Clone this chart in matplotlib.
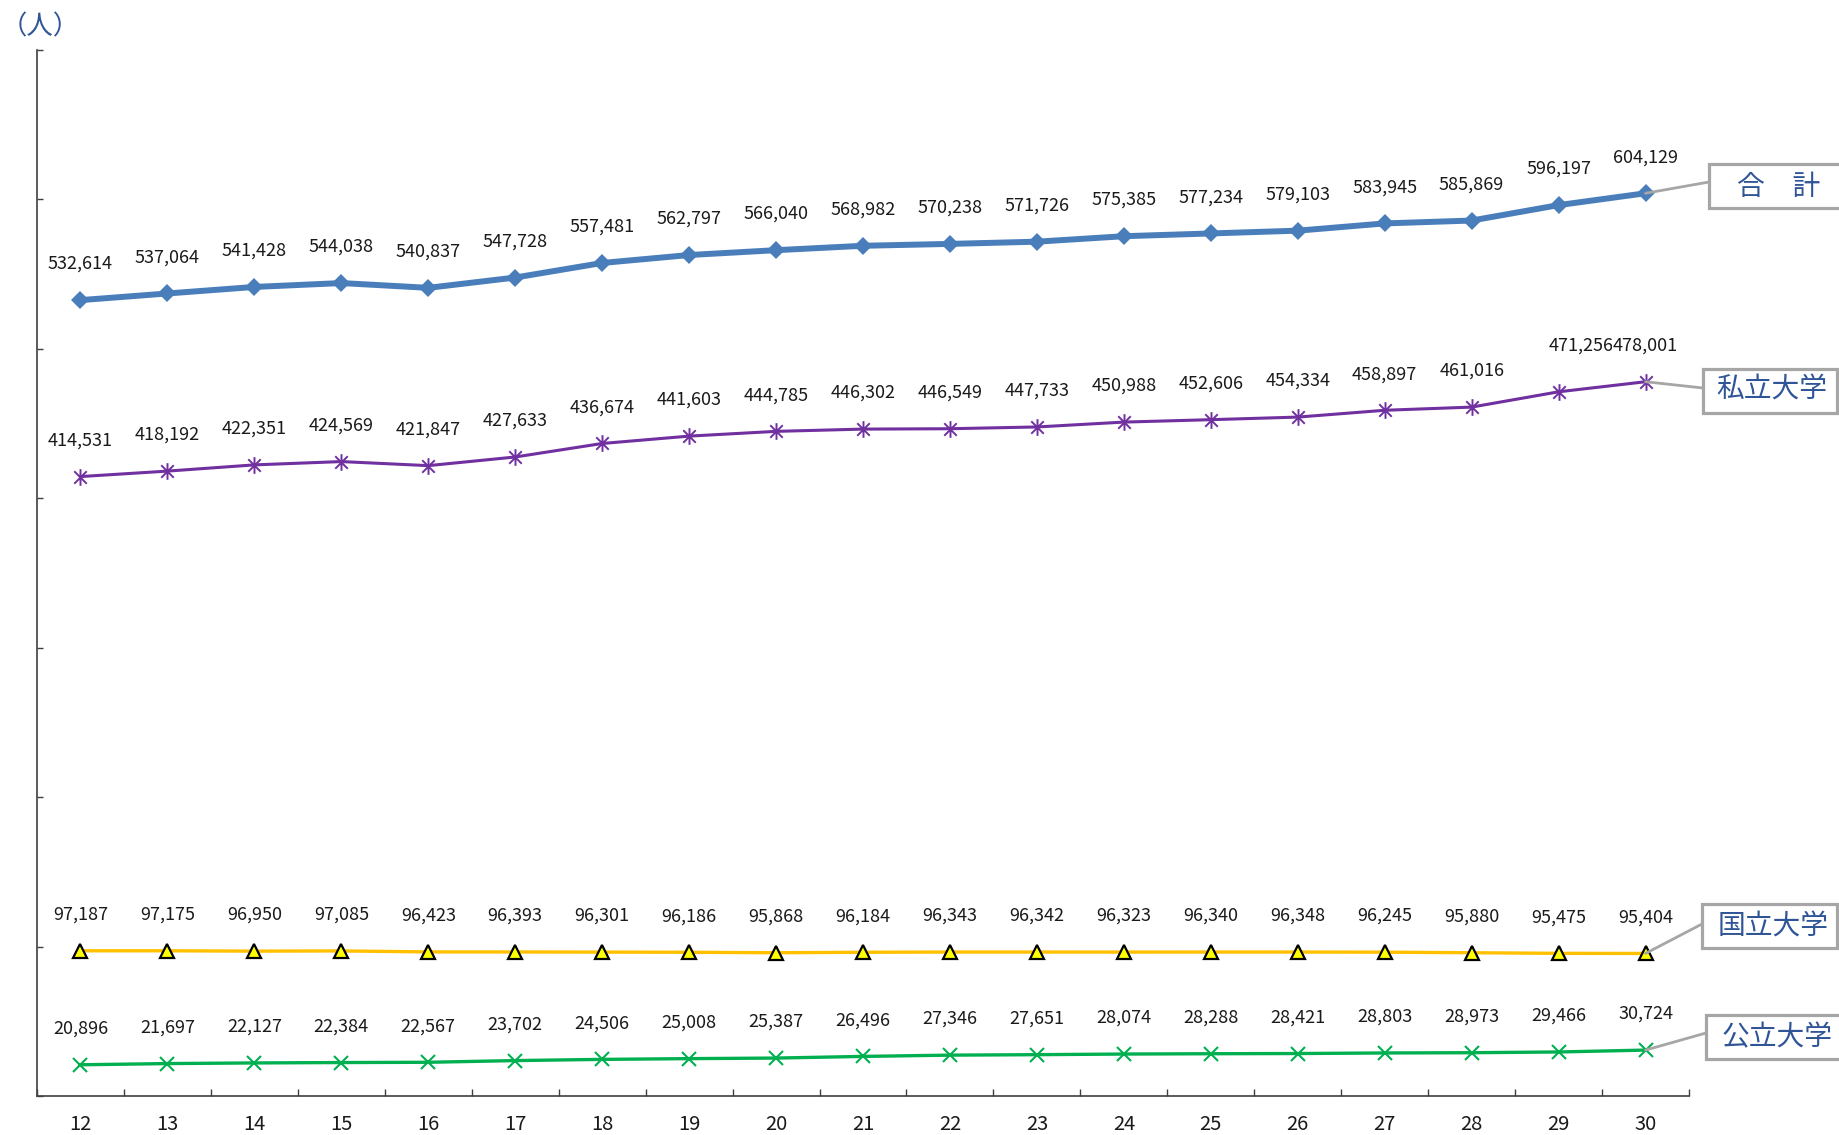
import matplotlib
matplotlib.use("Agg")
import matplotlib.pyplot as plt
from matplotlib.path import Path
from matplotlib.patches import Rectangle, ConnectionPatch

plt.rcParams['font.family'] = ['Noto Sans CJK JP', 'DejaVu Sans']

# 年度 (平成)
years = ["12", "13", "14", "15", "16", "17", "18", "19", "20", "21",
         "22", "23", "24", "25", "26", "27", "28", "29", "30"]

total = [532614, 537064, 541428, 544038, 540837, 547728, 557481, 562797, 566040, 568982,
         570238, 571726, 575385, 577234, 579103, 583945, 585869, 596197, 604129]
private = [414531, 418192, 422351, 424569, 421847, 427633, 436674, 441603, 444785, 446302,
           446549, 447733, 450988, 452606, 454334, 458897, 461016, 471256, 478001]
national = [97187, 97175, 96950, 97085, 96423, 96393, 96301, 96186, 95868, 96184,
            96343, 96342, 96323, 96340, 96348, 96245, 95880, 95475, 95404]
public = [20896, 21697, 22127, 22384, 22567, 23702, 24506, 25008, 25387, 26496,
          27346, 27651, 28074, 28288, 28421, 28803, 28973, 29466, 30724]

series_names = ["合　計", "私立大学", "国立大学", "公立大学"]

W, H = 1840, 1135
fig = plt.figure(figsize=(W / 100, H / 100), dpi=100)
ax = fig.add_axes([37 / W, 1 - 1096 / H, (1689 - 37) / W, (1096 - 50) / H])

x = list(range(len(years)))

# asterisk marker: vertical stroke plus an X
ast = Path([(0, -1), (0, 1), (-0.75, -0.75), (0.75, 0.75), (-0.75, 0.75), (0.75, -0.75)],
           [Path.MOVETO, Path.LINETO, Path.MOVETO, Path.LINETO, Path.MOVETO, Path.LINETO])

ax.plot(x, total, color='#4A7EBB', lw=4.3, marker='D', ms=9.5, mew=0,
        mfc='#4A7EBB', zorder=5, solid_joinstyle='round')
ax.plot(x, private, color='#7030A0', lw=2.2, marker=ast, ms=12, mew=1.4,
        mec='#7030A0', zorder=5)
ax.plot(x, national, color='#FFC000', lw=2.4, marker='^', ms=10, mew=1.6,
        mfc='#FFFF00', mec='black', zorder=5)
ax.plot(x, public, color='#00B050', lw=2.4, marker='x', ms=10, mew=1.5,
        mec='#00B050', zorder=5)

label_color = '#1A1A1A'


def label_series(vals, offsets=None, backed=()):
    for i, v in enumerate(vals):
        dx, dy = (0, 26)
        if offsets and i in offsets:
            dx, dy = offsets[i]
        bbox = None
        if i in backed:
            bbox = dict(boxstyle='square,pad=0.05', fc='white', ec='none')
        ax.annotate(f"{v:,}", xy=(i, v), xytext=(dx, dy), textcoords='offset points',
                    ha='center', va='center', fontsize=13, color=label_color,
                    zorder=6 + (1 if i in backed else 0), bbox=bbox)


label_series(total)
label_series(private, {17: (16, 33)}, backed=(18,))
label_series(national)
label_series(public)

ax.set_xlim(-0.5, len(years) - 0.5)
ax.set_ylim(0, 700000)

ax.set_xticks(x)
ax.set_xticklabels(years, fontsize=14.5, color='#1A1A1A')
ax.set_xticks([i - 0.5 for i in range(len(years) + 1)], minor=True)
ax.tick_params(axis='x', which='major', length=0, pad=13)
ax.tick_params(axis='x', which='minor', direction='in', length=5, width=1, color='#404040')

ax.set_yticks(range(0, 700001, 100000))
ax.set_yticklabels([])
ax.tick_params(axis='y', direction='in', length=4, width=1, color='#404040')

for s in ('top', 'right'):
    ax.spines[s].set_visible(False)
for s in ('left', 'bottom'):
    ax.spines[s].set_color('#404040')
    ax.spines[s].set_linewidth(1.2)

# unit label
fig.text(1 / W, 1 - 27 / H, "（人）", fontsize=19, color='#2F5597', ha='left', va='center')

# series name boxes with connector lines (figure pixels, origin at bottom-left)
boxes = [
    # name, value, box (x0, y0_top, x1, y1_top), text centre (x, y_top), connector end (x, y_top)
    (series_names[0], total[-1], (1709, 164, 1852, 208), (1779, 187), (1709, 182)),
    (series_names[1], private[-1], (1703, 369, 1837, 413), (1772, 390), (1703, 388)),
    (series_names[2], national[-1], (1702, 904, 1837, 948), (1773, 927), (1702, 924)),
    (series_names[3], public[-1], (1706, 1015, 1852, 1059), (1777, 1037), (1706, 1033)),
]
for name, val, (bx0, by0, bx1, by1), (tx, ty), (cx, cy) in boxes:
    con = ConnectionPatch(xyA=(x[-1], val), coordsA=ax.transData,
                          xyB=(cx, H - cy), coordsB='figure pixels',
                          color='#A6A6A6', lw=2.0, zorder=4)
    fig.add_artist(con)
    rect = Rectangle((bx0, H - by1), bx1 - bx0, by1 - by0, transform=None,
                     facecolor='white', edgecolor='#A6A6A6', lw=2.3, zorder=7)
    fig.add_artist(rect)
    fig.text(tx / W, 1 - ty / H, name, fontsize=20, color='#2F5597',
             ha='center', va='center', zorder=8)

fig.savefig("out.png", dpi=100, facecolor='white')
